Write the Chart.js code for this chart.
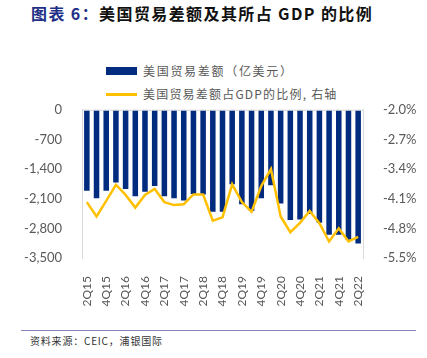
<!DOCTYPE html>
<html>
<head>
<meta charset="utf-8">
<script src="https://cdn.jsdelivr.net/npm/chart.js@4.4.0/dist/chart.umd.min.js"></script>
<style>
body { margin: 0; width: 427px; height: 358px; background: #fff; position: relative; overflow: hidden; font-family: "Noto Sans CJK SC", sans-serif; }
#title { position: absolute; left: 31px; top: 1px; font-size: 16px; font-weight: bold; color: #111; white-space: nowrap; letter-spacing: 1.4px; }
#title .num { color: #1f2f86; }
.leg { position: absolute; left: 106px; font-size: 12px; color: #595959; letter-spacing: 1.7px; white-space: nowrap; line-height: 16px; }
.leg .sw { position: absolute; left: 0; }
.leg span.t { position: absolute; left: 37px; top: 0; }
#chartBox { position: absolute; left: 0; top: 90px; width: 427px; height: 225px; }
#rule { position: absolute; left: 21px; top: 330px; width: 395px; height: 1px; background: #8585b8; }
#source { position: absolute; left: 30px; top: 333px; font-size: 10px; color: #333; letter-spacing: 0.8px; white-space: nowrap; }
</style>
</head>
<body>
<div id="title"><span class="num">图表 6：</span>美国贸易差额及其所占 GDP 的比例</div>
<div class="leg" style="top:63px"><div class="sw" style="top:4px;width:31px;height:8px;background:#002b7f"></div><span class="t">美国贸易差额（亿美元）</span></div>
<div class="leg" style="top:86px"><div class="sw" style="top:7px;width:31px;height:2.5px;background:#ffc000"></div><span class="t" style="letter-spacing:1.2px">美国贸易差额占GDP的比例, 右轴</span></div>
<div id="chartBox"><canvas id="tradeChart"></canvas></div>
<div id="rule"></div>
<div id="source">资料来源：CEIC，浦银国际</div>
<script>
const quarters = ['2Q15','3Q15','4Q15','1Q16','2Q16','3Q16','4Q16','1Q17','2Q17','3Q17','4Q17','1Q18','2Q18','3Q18','4Q18',
    '1Q19','2Q19','3Q19','4Q19','1Q20','2Q20','3Q20','4Q20','1Q21','2Q21','3Q21','4Q21','1Q22','2Q22'];
// 亿美元
const tradeBalance = [-1910,-2090,-1910,-1715,-1870,-2040,-1935,-1800,-2040,-2090,-2140,-1990,-2000,-2405,-2405,
    -1760,-2230,-2390,-2090,-1780,-2210,-2600,-2590,-2460,-2665,-2950,-2950,-3070,-3160];
// % of GDP
const gdpRatio = [-4.18,-4.52,-4.15,-3.77,-4.01,-4.31,-4.01,-3.87,-4.18,-4.25,-4.23,-4.00,-4.00,-4.62,-4.54,
    -3.76,-4.18,-4.41,-3.80,-3.40,-4.52,-4.89,-4.67,-4.39,-4.68,-5.11,-4.80,-5.11,-5.00];
const leftTicks = [0,-700,-1400,-2100,-2800,-3500];
const rightTicks = [-2.0,-2.7,-3.4,-4.1,-4.8,-5.5];

const tickFont = { family: 'Lato, "Open Sans", sans-serif', size: 13 };
const tickColor = '#595959';

// thin frame line along the top of the plot (category axis sits at 0)
const topLine = {
    id: 'topLine',
    afterDatasetsDraw(chart) {
        const a = chart.chartArea, ctx = chart.ctx;
        ctx.save();
        ctx.strokeStyle = '#d9d9d9';
        ctx.lineWidth = 1;
        ctx.beginPath();
        ctx.moveTo(a.left, a.top + 0.5);
        ctx.lineTo(a.right, a.top + 0.5);
        ctx.stroke();
        ctx.restore();
    }
};

const ctx = document.getElementById('tradeChart').getContext('2d');
const tradeChart = new Chart(ctx, {
    type: 'bar',
    data: {
        labels: quarters,
        datasets: [{
            type: 'line',
            label: '美国贸易差额占GDP的比例, 右轴',
            data: gdpRatio,
            yAxisID: 'yR',
            borderColor: '#ffc000',
            borderWidth: 2.5,
            pointRadius: 0,
            tension: 0,
            order: 0
        }, {
            type: 'bar',
            label: '美国贸易差额（亿美元）',
            data: tradeBalance,
            yAxisID: 'yL',
            backgroundColor: '#002b7f',
            barPercentage: 0.57,
            categoryPercentage: 1,
            order: 1
        }]
    },
    options: {
        responsive: true,
        maintainAspectRatio: false,
        animation: false,
        layout: { padding: { top: 0, left: 0, right: 0, bottom: 0 } },
        plugins: { legend: { display: false }, tooltip: { enabled: false } },
        scales: {
            x: {
                grid: { display: false },
                border: { display: false },
                ticks: {
                    autoSkip: false, minRotation: 90, maxRotation: 90, padding: 10,
                    font: { family: 'Lato, "Open Sans", sans-serif', size: 12 }, color: tickColor,
                    callback: (v, i) => i % 2 === 0 ? quarters[i] : ''
                },
                afterFit: s => { s.height = 57; }
            },
            yL: {
                position: 'left',
                min: -3500, max: 0,
                afterBuildTicks: s => { s.ticks = leftTicks.map(v => ({ value: v })); },
                grid: { display: false },
                border: { color: '#d9d9d9' },
                ticks: { padding: 12, font: tickFont, color: tickColor, callback: v => v.toLocaleString('en-US') },
                afterFit: s => { s.width = 82; }
            },
            yR: {
                position: 'right',
                min: -5.5, max: -2.0,
                afterBuildTicks: s => { s.ticks = rightTicks.map(v => ({ value: v })); },
                grid: { display: false },
                border: { color: '#d9d9d9' },
                ticks: { padding: 12, font: tickFont, color: tickColor, callback: v => v.toFixed(1) + '%' },
                afterFit: s => { s.width = 64; }
            }
        }
    },
    plugins: [topLine]
});
</script>
</body>
</html>
